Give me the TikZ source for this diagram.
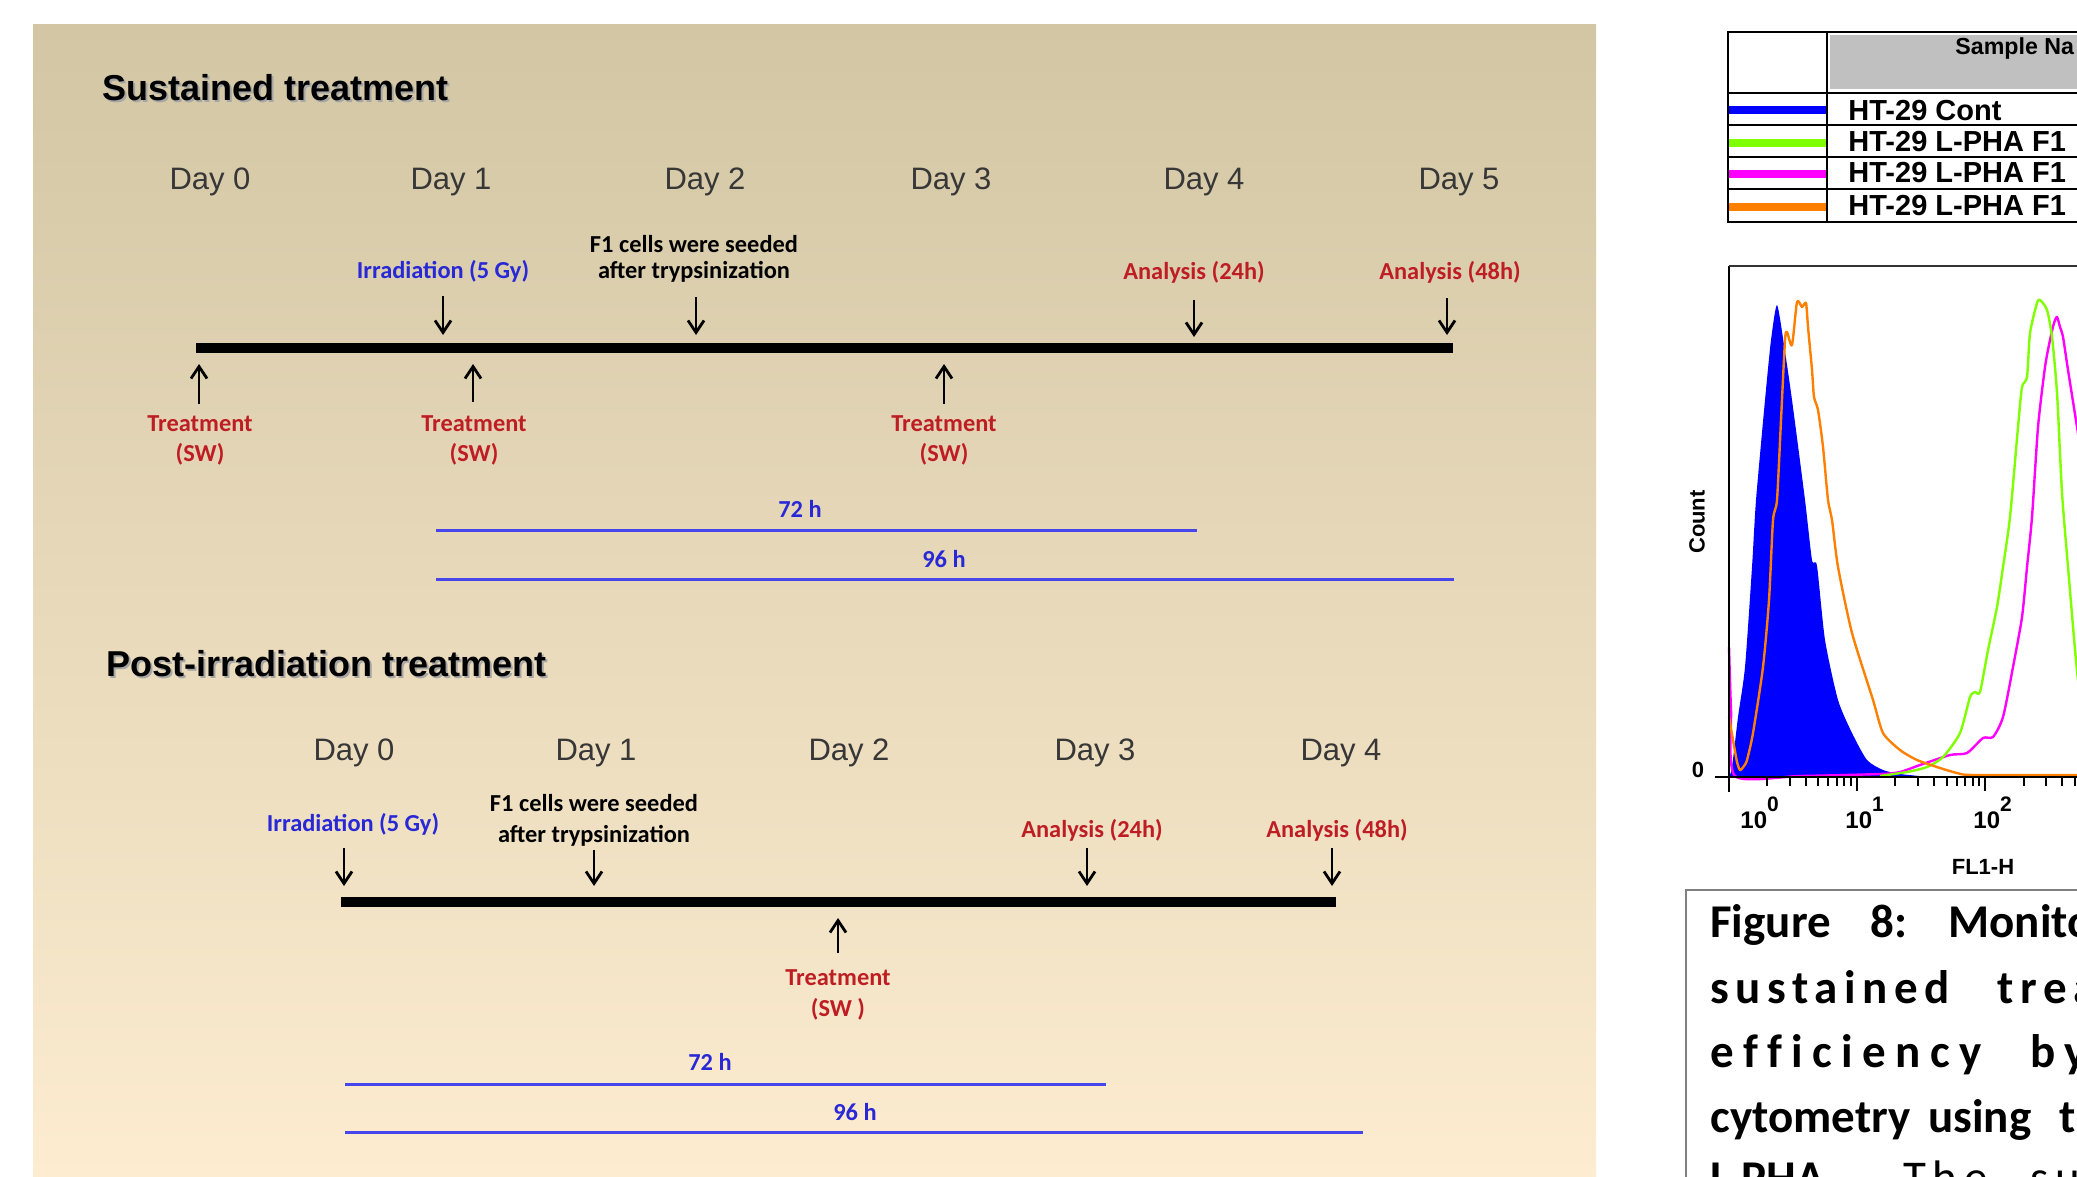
\documentclass[tikz,border=0pt]{standalone}
\usepackage{fontspec}
\setmainfont{Liberation Sans}
\newfontfamily\carlito{Carlito}
\usetikzlibrary{arrows.meta}

\definecolor{paneltop}{RGB}{210,198,164}
\definecolor{panelmid}{RGB}{240,232,212}
\definecolor{panelbot}{RGB}{253,236,208}
\definecolor{labred}{RGB}{190,30,35}
\definecolor{labblue}{RGB}{40,40,215}
\definecolor{lineblue}{RGB}{70,70,235}
\definecolor{daygray}{RGB}{55,55,55}
\definecolor{hgreen}{RGB}{128,255,0}
\definecolor{horange}{RGB}{255,128,0}
\definecolor{hmagenta}{RGB}{255,0,255}
\definecolor{hdrgray}{RGB}{192,192,192}

\newcommand{\capfont}{\carlito\bfseries\fontsize{23.5}{28}\selectfont}
\newcommand{\decade}[1]{10\raisebox{8.5pt}{\fontsize{10.5}{12}\selectfont #1}}

\begin{document}
\begin{tikzpicture}[x=0.5pt, y=-0.5pt,
  every node/.style={inner sep=0pt},
  title/.style={anchor=base west, font=\bfseries\fontsize{18}{21}\selectfont},
  day/.style={anchor=base, text=daygray, font=\fontsize{15.5}{18}\selectfont},
  lab/.style={anchor=base, font=\carlito\bfseries\fontsize{12.2}{14}\selectfont},
  redlab/.style={lab, text=labred},
  bluelab/.style={lab, text=labblue},
  arr/.style={line width=1.4pt, -{Straight Barb[length=6pt,width=8pt]}},
  bar/.style={line width=5pt},
  period/.style={lineblue, line width=1.5pt},
  tab/.style={anchor=base west, font=\bfseries\fontsize{14.5}{17}\selectfont},
  axlab/.style={font=\bfseries\fontsize{11}{13}\selectfont},
  ticklab/.style={anchor=base west, font=\bfseries\fontsize{12}{14}\selectfont},
  curve/.style={line width=1.2pt, line join=round},
  capw/.style={anchor=base west, font=\capfont}]
\useasboundingbox (0,0) rectangle (2077,1177);
\clip (0,0) rectangle (2077,1177);
\fill[white] (0,0) rectangle (2077,1177);
\shade[top color=paneltop, middle color=panelmid, bottom color=panelbot] (33,25) rectangle (1596,1177);

% sustained treatment
\node[title, text=gray!70] (sus-sh) at (104,103) {Sustained treatment};
\node[title] (sus) at (102,101) {Sustained treatment};
\foreach \i/\x in {0/210,1/451,2/705,3/951,4/1204,5/1459}
  \node[day] (sd\i) at (\x,189) {Day \i};
\node[bluelab] (sirr) at (443,278) {Irradiation (5 Gy)};
\node[lab] (sf1a) at (694,252) {F1 cells were seeded};
\node[lab] (sf1b) at (694,278) {after trypsinization};
\node[redlab] (sa24) at (1194,279) {Analysis (24h)};
\node[redlab] (sa48) at (1450,279) {Analysis (48h)};
\foreach \n/\x in {st0/200,st1/474,st3/944} {
  \node[redlab] (\n a) at (\x,431) {Treatment};
  \node[redlab] (\n b) at (\x,461) {(SW)};
}
\coordinate (s-start) at (196,348);
\coordinate (s-end) at (1453,348);
\draw[bar] (s-start) -- (s-end);
\coordinate (s72a) at (436,530); \coordinate (s72b) at (1197,530);
\coordinate (s96a) at (436,579); \coordinate (s96b) at (1454,579);
\draw[period] (s72a) -- (s72b);
\draw[period] (s96a) -- (s96b);
\node[bluelab] (s72) at (800,517) {72 h};
\node[bluelab] (s96) at (944,567) {96 h};

% post-irradiation treatment
\node[title, text=gray!70] (post-sh) at (108,678) {Post-irradiation treatment};
\node[title] (post) at (106,676) {Post-irradiation treatment};
\foreach \i/\x in {0/354,1/596,2/849,3/1095,4/1341}
  \node[day] (pd\i) at (\x,760) {Day \i};
\node[bluelab] (pirr) at (353,831) {Irradiation (5 Gy)};
\node[lab] (pf1a) at (594,811) {F1 cells were seeded};
\node[lab] (pf1b) at (594,842) {after trypsinization};
\node[redlab] (pa24) at (1092,837) {Analysis (24h)};
\node[redlab] (pa48) at (1337,837) {Analysis (48h)};
\node[redlab] (pt2a) at (838,985) {Treatment};
\node[redlab] (pt2b) at (838,1016) {(SW )};
\coordinate (p-start) at (341,902);
\coordinate (p-end) at (1336,902);
\draw[bar] (p-start) -- (p-end);
\coordinate (p72a) at (345,1084); \coordinate (p72b) at (1106,1084);
\coordinate (p96a) at (345,1132); \coordinate (p96b) at (1363,1132);
\draw[period] (p72a) -- (p72b);
\draw[period] (p96a) -- (p96b);
\node[bluelab] (p72) at (710,1070) {72 h};
\node[bluelab] (p96) at (855,1120) {96 h};

% arrows: name/x/tail/head
\foreach \n/\x/\a/\b in {sirr/443/296/335, sf1/696/297/335, sa24/1194/300/337,
    sa48/1447/298/335, st0/199/404/364, st1/473/402/364, st3/944/404/364,
    pirr/344/848/886, pf1/594/850/886, pa24/1087/848/886, pa48/1332/848/886,
    pt2/838/953/918} {
  \coordinate (\n-t) at (\x,\a);
  \coordinate (\n-h) at (\x,\b);
  \draw[arr] (\n-t) -- (\n-h);
}

% legend table
\fill[hdrgray] (1830,35) rectangle (2090,89);
\draw[line width=1pt] (1728,32) rectangle (2090,222);
\foreach \y in {93,125,157,189}
  \draw[line width=1pt] (1728,\y) -- (2090,\y);
\draw[line width=1pt] (1827,32) -- (1827,222);
\foreach \y/\c in {110/blue,143/hgreen,174/hmagenta,207/horange}
  \draw[\c, line width=4pt] (1729,\y) -- (1826,\y);
\node[anchor=base west, font=\bfseries\fontsize{11.6}{14}\selectfont] (hdr) at (1955,55) {Sample Na};
\node[tab] (r1) at (1848,120) {HT-29 Cont};
\node[tab] (r2) at (1848,152) {HT-29 L-PHA F1};
\node[tab] (r3) at (1848,183) {HT-29 L-PHA F1};
\node[tab] (r4) at (1848,215) {HT-29 L-PHA F1};

% histogram
\fill[blue] plot[smooth, tension=0.4] coordinates {(1729,777) (1732,767) (1738,717)
  (1745,667) (1752,567) (1756,500) (1765,400) (1771,340) (1777,305) (1784,345)
  (1792,400) (1805,500) (1812,560) (1817,566) (1825,640) (1838,700) (1852,733)
  (1867,760) (1883,770) (1900,774) (1930,777)} -- cycle;
\draw[curve, hmagenta] plot[smooth, tension=0.4] coordinates {(1729,647) (1731,710)
  (1735,776) (1800,776) (1880,774) (1900,772) (1920,765) (1950,755) (1967,753)
  (1983,738) (1993,737) (2003,717) (2013,667) (2022,617) (2027,567) (2032,517)
  (2038,427) (2045,367) (2050,340) (2054,323) (2057,317) (2060,327) (2063,337)
  (2068,370) (2077,427) (2085,480)};
\draw[curve, hgreen] plot[smooth, tension=0.4] coordinates {(1880,776) (1907,772)
  (1927,767) (1943,757) (1960,733) (1970,697) (1975,692) (1980,692) (1988,650)
  (1997,607) (2003,567) (2010,517) (2018,427) (2022,387) (2027,377) (2030,333)
  (2037,303) (2040,300) (2047,310) (2052,337) (2057,393) (2062,493) (2068,567)
  (2075,650) (2080,700)};
\draw[curve, horange] plot[smooth, tension=0.4] coordinates {(1729,717) (1733,740)
  (1737,762) (1740,770) (1744,766) (1747,760) (1753,733) (1763,667) (1769,600)
  (1773,520) (1777,500) (1781,420) (1785,340) (1787,332) (1792,345) (1797,302)
  (1802,307) (1806,303) (1808,327) (1812,370) (1814,397) (1818,410) (1823,447)
  (1828,500) (1832,520) (1838,567) (1852,633) (1873,700) (1883,733) (1900,750)
  (1917,760) (1940,768) (1957,773) (1973,775) (2077,775)};
\draw[line width=1.2pt] (1729,266) -- (1729,792);
\draw[line width=1.2pt, black!80] (1729,266) -- (2090,266);
\draw[line width=1.2pt] (1715,777) -- (2090,777);
\foreach \d in {0,1,2}
  \foreach \m in {2,...,9}
    \draw[line width=1pt] ({1728.5+128.3*(\d+log10(\m))},777) -- ++(0,9);
\foreach \d in {1,2}
  \draw[line width=1.2pt] ({1728.5+128.3*\d},777) -- ++(0,14);
\node[ticklab] (t0) at (1740,828) {\decade{0}};
\node[ticklab] (t1) at (1845,828) {\decade{1}};
\node[ticklab] (t2) at (1973,828) {\decade{2}};
\node[axlab] (zero) at (1698,770) {0};
\node[axlab, rotate=90] (count) at (1697,522) {Count};
\node[axlab] (fl1) at (1983,867) {FL1-H};

% caption
\draw[gray, line width=0.8pt] (1686,1190) -- (1686,890) -- (2090,890);
\node[capw] (c1a) at (1710,937) {Figure};
\node[capw] (c1b) at (1870,937) {8:};
\node[capw] (c1c) at (1948,937) {Monito};
\node[capw] (c2a) at (1710,1003) {\addfontfeature{LetterSpace=14}sustained};
\node[capw] (c2b) at (1997,1003) {\addfontfeature{LetterSpace=14}trea};
\node[capw] (c3a) at (1710,1067) {\addfontfeature{LetterSpace=20,Ligatures=NoCommon}efficiency};
\node[capw] (c3b) at (2030,1067) {\addfontfeature{LetterSpace=20}by};
\node[capw] (c4a) at (1710,1132) {cytometry};
\node[capw] (c4b) at (1928,1132) {using};
\node[capw] (c4c) at (2059,1132) {th};
\node[capw] (c5a) at (1710,1193) {L-PHA.};
\node[capw, font=\carlito\fontsize{23.5}{28}\selectfont] (c5b) at (1903,1193) {\addfontfeature{LetterSpace=14}The};
\node[capw, font=\carlito\fontsize{23.5}{28}\selectfont] (c5c) at (2030,1193) {\addfontfeature{LetterSpace=14}su};
\end{tikzpicture}
\end{document}
